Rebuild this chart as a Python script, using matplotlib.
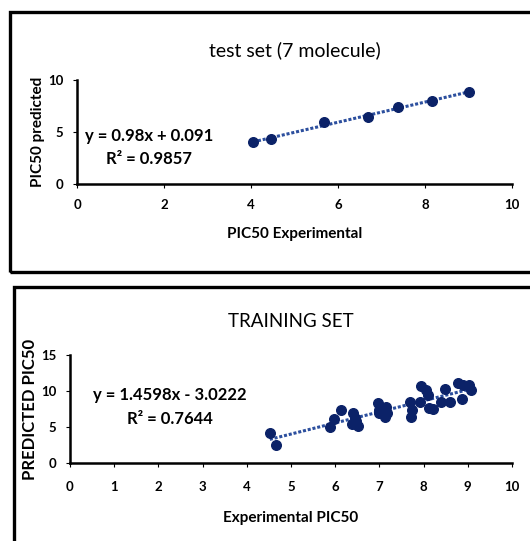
import matplotlib
matplotlib.use('Agg')
import matplotlib.pyplot as plt
from matplotlib.patches import Rectangle
import numpy as np

# test set (7 molecules)
test_exp = [4.05, 4.47, 5.68, 6.68, 7.37, 8.15, 9.02]
test_pred = [4.0, 4.3, 6.0, 6.4, 7.4, 8.0, 8.8]
test_eq = "y = 0.98x + 0.091\nR² = 0.9857"

# training set
train_exp = [4.52, 4.66, 5.88, 5.97, 6.13, 6.40, 6.44, 6.37, 6.52, 6.48,
             6.96, 7.00, 6.98, 7.08, 7.15, 7.12, 7.18,
             7.70, 7.72, 7.74, 7.92, 7.95, 8.06, 8.10, 8.12, 8.22,
             8.40, 8.48, 8.60, 8.78, 8.88, 8.90, 9.02, 9.08]
train_pred = [4.1, 2.5, 5.05, 6.1, 7.36, 6.9, 6.3, 5.35, 5.1, 5.8,
              8.3, 7.4, 6.9, 7.1, 7.8, 6.4, 6.9,
              8.5, 6.4, 7.4, 8.5, 10.7, 10.1, 9.5, 7.7, 7.5,
              8.5, 10.3, 8.5, 11.06, 8.9, 10.8, 10.8, 10.2]
train_eq = "y = 1.4598x - 3.0222\nR² = 0.7644"

plt.rcParams['font.family'] = ['Lato', 'DejaVu Sans']

fig = plt.figure(figsize=(5.30, 5.41), dpi=100)
W, H = 530, 541

# outer frames
fig.patches.append(Rectangle((10 / W, 1 - 271.5 / H), 540 / W, 260 / H,
                             transform=fig.transFigure, fill=False,
                             edgecolor='black', linewidth=2.4))
fig.patches.append(Rectangle((13.5 / W, -0.05), 540 / W, 1 - 287.5 / H + 0.05,
                             transform=fig.transFigure, fill=False,
                             edgecolor='black', linewidth=2.4))

marker_c = '#0b2268'
line_c = '#2c4f9e'


def style_axes(ax, tpad):
    for s in ['top', 'right']:
        ax.spines[s].set_visible(False)
    for s in ['left', 'bottom']:
        ax.spines[s].set_linewidth(1.8)
    ax.tick_params(direction='out', length=3, width=0.8, labelsize=9.5, pad=7)
    ax.tick_params(axis='x', pad=tpad)
    for lab in ax.get_xticklabels() + ax.get_yticklabels():
        lab.set_fontweight('bold')


def panel(ax, x, y, xt, yt, ymax, title, tsize, tpad, xlabel, xpad,
          ylabel, ysize, eq, eq_xy, xtick_pad):
    x = np.array(x)
    y = np.array(y)
    ax.scatter(x, y, s=48, color=marker_c, zorder=3)
    k, b = np.polyfit(x, y, 1)
    xs = np.array([x.min(), x.max()])
    ax.plot(xs, k * xs + b, linestyle=(0, (1, 0.6)), color=line_c, linewidth=2.2, zorder=2)
    ax.set_xlim(0, 10)
    ax.set_ylim(0, ymax)
    ax.set_xticks(xt)
    ax.set_yticks(yt)
    ax.set_title(title, fontsize=tsize, pad=tpad)
    ax.set_xlabel(xlabel, fontsize=11, fontweight='bold', labelpad=xpad)
    ax.set_ylabel(ylabel, fontsize=ysize, fontweight='bold', labelpad=2)
    ax.text(eq_xy[0], eq_xy[1], eq, transform=ax.transAxes, fontsize=12,
            fontweight='bold', ha='center', va='center', linespacing=1.6)
    style_axes(ax, xtick_pad)


ax1 = fig.add_axes([77 / W, 1 - 184 / H, 435 / W, 104 / H])
panel(ax1, test_exp, test_pred, [0, 2, 4, 6, 8, 10], [0, 5, 10], 10,
      'test set (7 molecule)', 14, 17, 'PIC50 Experimental', 11,
      'PIC50 predicted', 11, test_eq, (0.165, 0.35), 8)

ax2 = fig.add_axes([70 / W, 1 - 463 / H, 442 / W, 108 / H])
panel(ax2, train_exp, train_pred, list(range(0, 11)), [0, 5, 10, 15], 15,
      'TRAINING SET', 13.5, 20, 'Experimental PIC50', 13,
      'PREDICTED PIC50', 12, train_eq, (0.226, 0.52), 10)

fig.savefig('out.png', dpi=100)
